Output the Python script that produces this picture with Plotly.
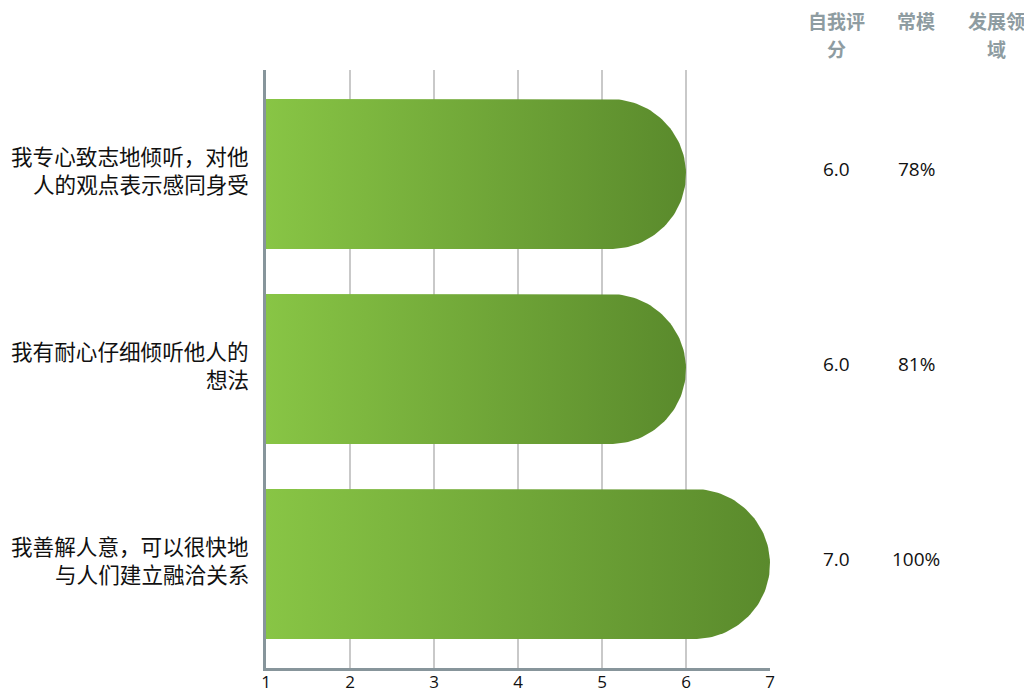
import numpy as np
import plotly.graph_objects as go

categories = ["我专心致志地倾听，对他<br>人的观点表示感同身受",
              "我有耐心仔细倾听他人的<br>想法",
              "我善解人意，可以很快地<br>与人们建立融洽关系"]
scores = [6.0, 6.0, 7.0]
norms = ["78%", "81%", "100%"]
headers = ["自我评<br>分", "常模", "发展领<br>域"]
tick_vals = [1, 2, 3, 4, 5, 6, 7]

W, H = 1025, 687
OFFX, OFFY = 7, 8  # page offset of the plot div
PL, PR, PT, PB = 265, 769, 70, 668  # plot area in page pixels
ML, MR, MT, MB = PL - OFFX, W + OFFX - PR, PT - OFFY, H + OFFY - PB
plot_w = PR - PL
plot_h = PB - PT
px_per_unit = plot_w / (tick_vals[-1] - tick_vals[0])
cat_px = 195.0          # category spacing in px
first_center = 174.0    # page y of first category
y_top = -(first_center - PT) / cat_px
y_bot = (PB - first_center) / cat_px
half_h = 75.0 / cat_px  # half bar height in category units
cap_px = 76
rx = cap_px / px_per_unit

fig = go.Figure()
for i, (cat, v) in enumerate(zip(categories, scores)):
    x0 = tick_vals[0]
    xs = [x0, v - rx]
    ys = [i - half_h, i - half_h]
    t = np.linspace(-np.pi / 2, np.pi / 2, 80)
    xs += list(v - rx + rx * np.cos(t))
    ys += list(i + half_h * np.sin(t))
    xs += [v - rx, x0, x0]
    ys += [i + half_h, i + half_h, i - half_h]
    fig.add_trace(go.Scatter(
        x=xs, y=ys, mode="lines", fill="toself",
        line=dict(width=0, color="rgba(0,0,0,0)"),
        fillgradient=dict(type="horizontal",
                          colorscale=[[0, "#88c545"], [1, "#5a8a2c"]]),
        hoverinfo="skip", showlegend=False))

num_font = "'Open Sans', sans-serif"
cjk_font = "'Noto Sans CJK SC'"
anns = []
col_px = [835, 915, 995]
col_x = [(c - PL) / plot_w for c in col_px]
line_px = [20, 48]
for cx, h in zip(col_x, headers):
    for li, part in enumerate(h.split("<br>")):
        anns.append(dict(x=cx, y=(PB - line_px[li]) / plot_h, xref="paper", yref="paper",
                         xanchor="center", yanchor="middle",
                         text="<b>" + part + "</b>", showarrow=False,
                         font=dict(family=cjk_font, size=19, color="#8e9ca1")))
for i, (s, n) in enumerate(zip(scores, norms)):
    for cx, txt in zip(col_x[:2], [f"{s:.1f}", n]):
        anns.append(dict(x=cx, y=i, xref="paper", yref="y", text=txt,
                         xanchor="center", showarrow=False, yshift=5,
                         font=dict(family=num_font, size=19, color="#111111")))

# category labels (two right-aligned lines each)
lab_x = (250 - PL) / plot_w
lab_shift = [19, -9]
for i, cat in enumerate(categories):
    for li, part in enumerate(cat.split("<br>")):
        anns.append(dict(x=lab_x, y=i, xref="paper", yref="y", text=part,
                         xanchor="right", yanchor="middle", showarrow=False,
                         yshift=lab_shift[li],
                         font=dict(family=cjk_font, size=21.6, color="#111111")))

fig.update_layout(
    width=W, height=H, margin=dict(l=ML, r=MR, t=MT, b=MB),
    plot_bgcolor="white", paper_bgcolor="white",
    annotations=anns,
    xaxis=dict(range=[tick_vals[0], tick_vals[-1]], tickvals=tick_vals,
               showgrid=True, gridcolor="#c9c9c9", gridwidth=2,
               showline=True, linecolor="#87959b", linewidth=3,
               zeroline=False, ticks="", fixedrange=True, automargin=False,
               ticklabelstandoff=-3,
               tickfont=dict(family=num_font, size=17, color="#111111")),
    yaxis=dict(range=[y_bot, y_top], tickvals=list(range(len(categories))),
               showticklabels=False, showgrid=False, automargin=False,
               showline=True, linecolor="#87959b", linewidth=3,
               zeroline=False, ticks="", fixedrange=True),
)
fig.write_html("out.html")
